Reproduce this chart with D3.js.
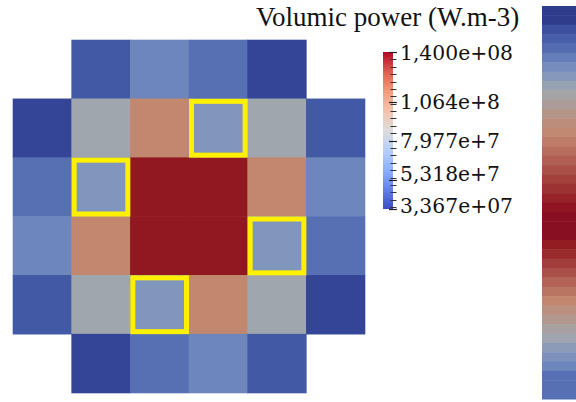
<!DOCTYPE html>
<meta charset="utf-8">
<style>
  body { margin: 0; background: #fff; }
  svg { display: block; }
</style>
<script src="https://d3js.org/d3.v7.min.js"></script>
<svg id="chart" width="576" height="402"></svg>
<script>

// volumic power of each assembly (W.m-3), null = no assembly
var cellValues = [
  [null,   4.2e7,  5.8e7,  5.0e7,  3.5e7,  null ],
  [3.5e7,  7.9e7,  1.07e8, 6.6e7,  7.9e7,  4.2e7],
  [5.0e7,  6.6e7,  1.37e8, 1.37e8, 1.07e8, 5.8e7],
  [5.8e7,  1.07e8, 1.37e8, 1.37e8, 6.6e7,  5.0e7],
  [4.2e7,  7.9e7,  6.6e7,  1.07e8, 7.9e7,  3.5e7],
  [null,   3.5e7,  5.0e7,  5.8e7,  4.2e7,  null ]
];
// [row, col] of the outlined assemblies
var highlighted = [[1, 3], [2, 1], [3, 4], [4, 2]];

// colour bar
var legendTitle = "Volumic power (W.m-3)";
var legendMin = 3.367e7, legendMax = 1.4e8;
var legendTicks = [1.4e8, 1.064e8, 7.977e7, 5.318e7, 3.367e7];
var legendLabels = ["1,400e+08", "1,064e+8", "7,977e+7", "5,318e+7", "3,367e+07"];

// discrete bands of the cut strip on the right
var stripValues = [3.37e7, 3.37e7, 3.9e7, 4.4e7, 4.9e7, 5.5e7, 6.1e7, 6.8e7, 7.5e7, 8.2e7,
  8.8e7, 9.5e7, 1.01e8, 1.06e8, 1.1e8, 1.14e8, 1.18e8, 1.22e8, 1.26e8, 1.3e8, 1.34e8,
  1.38e8, 1.4e8, 1.4e8, 1.4e8, 1.36e8, 1.32e8, 1.27e8, 1.22e8, 1.17e8, 1.12e8, 1.07e8,
  1.0e8, 9.3e7, 8.5e7, 7.8e7, 7.0e7, 6.4e7, 5.8e7, 5.0e7, 5.0e7, 5.0e7];

var svg = d3.select("#chart");

// muted map used for the assemblies
var cellColor = d3.scaleLinear()
  .domain([3.367e7, 3.5e7, 4.2e7, 5.0e7, 5.8e7, 6.6e7, 7.9e7, 1.07e8, 1.37e8, 1.4e8])
  .range(["#2e3c8c", "#344597", "#4259a5", "#5770b3", "#6d86bc", "#8196bd",
          "#a0a6ad", "#c2886f", "#911820", "#880f22"])
  .clamp(true);

// cool to warm map of the colour bar
var coolWarm = ["#3b4cc0", "#6282ea", "#8db0fe", "#b8d0f9", "#dddcdc",
                "#f5c4ac", "#f49a7b", "#de604d", "#b40426"];
var barColor = d3.scaleLinear()
  .domain(d3.range(coolWarm.length).map(function(i) {
    return legendMin + (legendMax - legendMin) * i / (coolWarm.length - 1);
  }))
  .range(coolWarm);

// grid
var idx = d3.range(6);
var x = d3.scaleBand().domain(idx).range([13, 365]);
var y = d3.scaleBand().domain(idx).range([40, 393]);

var cells = [];
cellValues.forEach(function(row, r) {
  row.forEach(function(v, c) {
    if (v !== null) cells.push({ r: r, c: c, v: v });
  });
});

svg.append("g")
  .selectAll("rect")
  .data(cells)
  .enter()
  .append("rect")
    .attr("x", function(d) { return x(d.c) - 0.3; })
    .attr("y", function(d) { return y(d.r) - 0.3; })
    .attr("width", x.bandwidth() + 0.6)
    .attr("height", y.bandwidth() + 0.6)
    .attr("fill", function(d) { return cellColor(d.v); });

// yellow outlines
var sw = 5;
svg.append("g")
  .selectAll("rect")
  .data(highlighted)
  .enter()
  .append("rect")
    .attr("x", function(d) { return x(d[1]) + sw / 2; })
    .attr("y", function(d) { return y(d[0]) + sw / 2; })
    .attr("width", x.bandwidth() - sw)
    .attr("height", y.bandwidth() - sw)
    .attr("fill", "none")
    .attr("stroke", "#fff000")
    .attr("stroke-width", sw);

// colour bar
var ly = d3.scaleLinear().domain([legendMin, legendMax]).range([209, 52]);

var grad = svg.append("defs").append("linearGradient")
  .attr("id", "cw")
  .attr("x1", 0).attr("y1", 1).attr("x2", 0).attr("y2", 0);
grad.selectAll("stop")
  .data(d3.range(0, 1.0001, 0.05))
  .enter()
  .append("stop")
    .attr("offset", function(t) { return t; })
    .attr("stop-color", function(t) { return barColor(legendMin + t * (legendMax - legendMin)); });

svg.append("rect")
  .attr("x", 383)
  .attr("y", ly(legendMax))
  .attr("width", 10)
  .attr("height", ly(legendMin) - ly(legendMax))
  .attr("fill", "url(#cw)");

// minor ticks every 5e6
var minor = d3.range(3.5e7, legendMax + 1, 5e6);
svg.append("g")
  .selectAll("line")
  .data(minor)
  .enter()
  .append("line")
    .attr("x1", 390.5).attr("x2", 396.5)
    .attr("y1", function(d) { return Math.round(ly(d)) + 0.5; })
    .attr("y2", function(d) { return Math.round(ly(d)) + 0.5; })
    .attr("stroke", "#333")
    .attr("stroke-width", 1);

svg.append("g")
  .selectAll("line")
  .data(legendTicks)
  .enter()
  .append("line")
    .attr("x1", 389).attr("x2", 397)
    .attr("y1", function(d) { return Math.round(ly(d)) + 0.5; })
    .attr("y2", function(d) { return Math.round(ly(d)) + 0.5; })
    .attr("stroke", "#222")
    .attr("stroke-width", 1.2);

// labels pushed apart from the bottom up so they do not crowd
var labelY = legendTicks.map(function(d) { return ly(d); });
var minGap = 32;
labelY[labelY.length - 1] = Math.min(labelY[labelY.length - 1], ly(legendMin) - 4);
for (var i = labelY.length - 2; i >= 0; i--) {
  labelY[i] = Math.min(labelY[i], labelY[i + 1] - minGap);
}

svg.append("g")
  .selectAll("text")
  .data(legendTicks)
  .enter()
  .append("text")
    .attr("x", 400)
    .attr("y", function(d, i) { return labelY[i]; })
    .attr("dy", "0.36em")
    .attr("font-family", "DejaVu Serif")
    .attr("font-size", 21)
    .attr("textLength", function(d, i) { return legendLabels[i].length > 8 ? 113 : 100; })
    .attr("lengthAdjust", "spacingAndGlyphs")
    .attr("fill", "#111")
    .text(function(d, i) { return legendLabels[i]; });

svg.append("text")
  .attr("x", 256)
  .attr("y", 26)
  .attr("font-family", "Liberation Serif")
  .attr("font-size", 27)
  .attr("fill", "#111")
  .text(legendTitle);

// strip on the right edge
var sy = d3.scaleBand().domain(d3.range(stripValues.length)).range([6, 399]);
svg.append("g")
  .selectAll("rect")
  .data(stripValues)
  .enter()
  .append("rect")
    .attr("x", 542)
    .attr("y", function(d, i) { return sy(i); })
    .attr("width", 40)
    .attr("height", sy.bandwidth() + 0.5)
    .attr("fill", function(d) { return cellColor(d); });

</script>
